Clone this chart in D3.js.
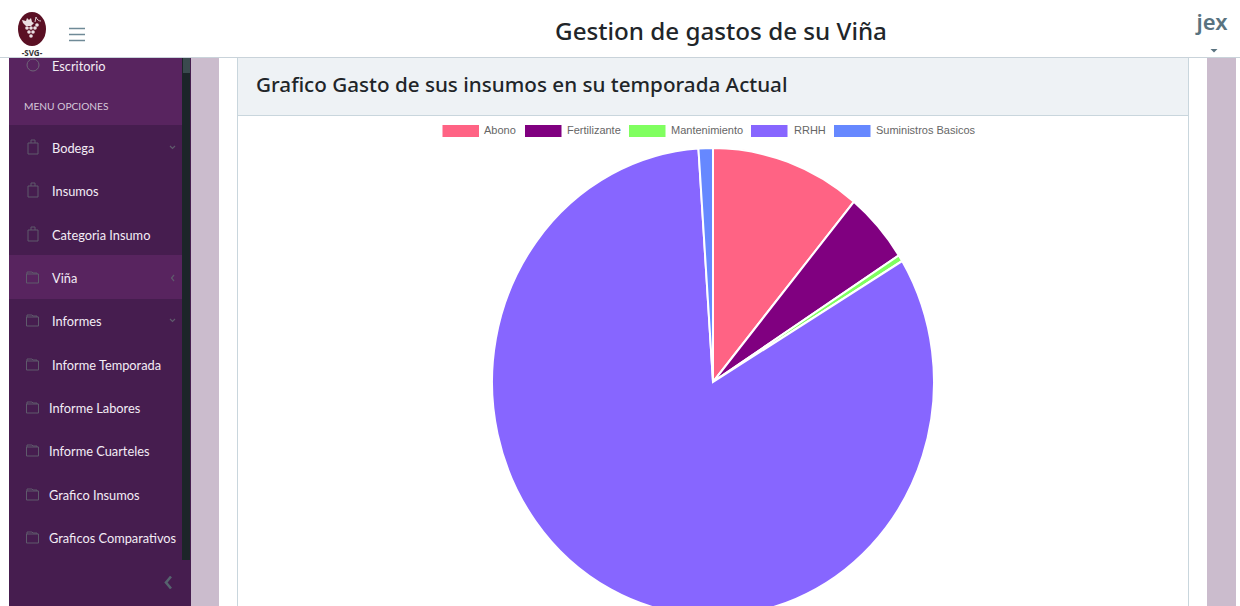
<!DOCTYPE html>
<html lang="es"><head><meta charset="utf-8"><title>Gestion de gastos de su Viña</title>
<script src="https://d3js.org/d3.v7.min.js"></script>
<style>html,body{margin:0;padding:0;background:#fff;overflow:hidden}svg{display:block}</style>
</head><body><svg id="c" width="1240" height="606"></svg>
<script>
const categories = ["Abono","Fertilizante","Mantenimiento","RRHH","Suministros Basicos"];
const seriesValues = [11.0,4.9,0.45,82.6,1.05];
const seriesColors = ["#ff6384","#800080","#80ff60","#8766ff","#6688ff"];
const legendX = [442.5,525,629,751,834];
const legendTextX = [484,567,671,794,876];
const menuLabels = ["Bodega","Insumos","Categoria Insumo","Viña","Informes","Informe Temporada","Informe Labores","Informe Cuarteles","Grafico Insumos","Graficos Comparativos"];
const menuY = [148,191,235,278,321,365,408,451,495,538];
const menuTextX = [52,52,52,52,52,52,49,49,49,49];
const menuIcon = ["bag","bag","bag","folder","folder","folder","folder","folder","folder","folder"];
const menuCaret = ["down",null,null,"left","down",null,null,null,null,null];

const svg = d3.select("#c");
const uiFont = "Lato, 'Open Sans', sans-serif";
const headFont = "'Noto Sans', 'Open Sans', sans-serif";
const rect=(x,y,w,h,f)=>svg.append("rect").attr("x",x).attr("y",y).attr("width",w).attr("height",h).attr("fill",f);

// page frame
rect(191,58,28,548,"#cbbccd");
rect(1207,58,29,548,"#cbbccd");
rect(237,58,952,548,"#c9d6dd");
rect(238,58,950,548,"#ffffff");
rect(238,58,950,57,"#eef2f5");
rect(238,115,950,1,"#c9d6dd");
rect(0,57,1240,1,"#c9d3da");

// sidebar
rect(9,58,182,548,"#461d4f");
rect(9,58,173,67,"#58245f");
rect(9,255,173,44,"#58245f");
rect(182,58,8,502,"#1c2529");
rect(183,58,7,15,"#3a4a4e");

svg.append("text").attr("x",52).attr("y",70.500).attr("fill","#f3ecf5").attr("font-family",uiFont).attr("font-size",12.8).text("Escritorio");
svg.append("circle").attr("cx",33).attr("cy",65).attr("r",6).attr("fill","none").attr("stroke","#6f6578");
svg.append("text").attr("x",24).attr("y",110).attr("fill","#d5c8da").attr("font-family",uiFont).attr("font-size",10.2).text("MENU OPCIONES");

const items = svg.append("g").selectAll("g").data(menuLabels).join("g");
items.append("text").attr("x",(d,i)=>menuTextX[i]).attr("y",(d,i)=>menuY[i]+4.5)
  .attr("fill","#f3ecf5").attr("font-family",uiFont).attr("font-size",12.8).text(d=>d);
items.each(function(d,i){
  const g=d3.select(this), y=menuY[i], st="#5f5a6c";
  if(menuIcon[i]==="bag"){
    g.append("path").attr("d",`M28 ${y-5}h10v11h-10zM31 ${y-5}v-3h4v3`).attr("fill","none").attr("stroke",st);
  } else {
    g.append("path").attr("d",`M27 ${y-4}v-2h5l1 1h4v1M26.500 ${y-4}h12v9h-12z`).attr("fill","none").attr("stroke",st);
  }
  if(menuCaret[i]==="down") g.append("path").attr("d",`M170 ${y-2}l2.500 2.500l2.500-2.500`).attr("fill","none").attr("stroke",st).attr("stroke-width",1.2);
  if(menuCaret[i]==="left") g.append("path").attr("d",`M174 ${y-3}l-2.500 3l2.500 3`).attr("fill","none").attr("stroke",st).attr("stroke-width",1.2);
});
svg.append("path").attr("d","M171 576.500l-5 6l5 6").attr("fill","none").attr("stroke","#56636e").attr("stroke-width",2.6);

// top bar
svg.append("text").attr("x",721).attr("y",40).attr("text-anchor","middle").attr("fill","#212529")
  .attr("font-family",headFont).attr("font-weight",500).attr("font-size",24.2).text("Gestion de gastos de su Viña");
svg.append("path").attr("d","M69 28.500h16M69 34.500h16M69 40.500h16").attr("stroke","#6f8a97").attr("stroke-width",1.7);
svg.append("text").attr("x",1212).attr("y",30).attr("text-anchor","middle").attr("fill","#5a7380")
  .attr("font-family",headFont).attr("font-weight",600).attr("font-size",22).text("jex");
svg.append("path").attr("d","M1210.500 49h7l-3.500 3.500z").attr("fill","#5a7380");
// logo: oval with a leaf and a bunch of grapes
svg.append("ellipse").attr("cx",32).attr("cy",29).attr("rx",14).attr("ry",17).attr("fill","#5a1024");
svg.append("path").attr("d","M22 20l4 1l1-3l2 2l2-2l1 4l2 1l-3 3l-5 0l-3-3z").attr("fill","#eadfe2");
svg.append("path").attr("d","M36 17c1 3 3 4 5 4M36 17l-1 5").attr("fill","none").attr("stroke","#d9c8cd");
svg.append("g").attr("fill","#eadfe2").selectAll("circle")
  .data([[27,28],[31,28],[35,28],[29,32],[33,32],[31,36],[37,25]]).join("circle")
  .attr("cx",d=>d[0]).attr("cy",d=>d[1]).attr("r",1.8);
svg.append("text").attr("x",32).attr("y",55.500).attr("text-anchor","middle").attr("fill","#333").attr("font-family",headFont).attr("font-weight",700).attr("font-size",8).text("-SVG-");

// card title
svg.append("text").attr("x",256).attr("y",92).attr("fill","#212529").attr("font-family",headFont).attr("font-weight",500)
  .attr("font-size",20.65).text("Grafico Gasto de sus insumos en su temporada Actual");

// legend
const color = d3.scaleOrdinal().domain(categories).range(seriesColors);
const legend = svg.append("g").selectAll("g").data(categories).join("g");
legend.append("rect").attr("x",(d,i)=>legendX[i]).attr("y",125).attr("width",36.5).attr("height",12).attr("fill",d=>color(d));
legend.append("text").attr("x",(d,i)=>legendTextX[i]).attr("y",134).attr("fill","#666")
  .attr("font-family","'Liberation Sans', Arial, sans-serif").attr("font-size",11).text(d=>d);

// pie (reference is stretched vertically)
const cx=713, cy=382, radius=221, stretchY=234/221;
const pie = d3.pie().sort(null).value(d=>d.v);
const arc = d3.arc().innerRadius(0).outerRadius(radius);
const rows = categories.map((c,i)=>({c,v:seriesValues[i]}));
svg.append("g").attr("transform",`translate(${cx},${cy}) scale(1,${stretchY})`)
  .selectAll("path").data(pie(rows)).join("path")
  .attr("d",arc).attr("fill",d=>color(d.data.c)).attr("stroke","#fff").attr("stroke-width",2);
</script></body></html>
